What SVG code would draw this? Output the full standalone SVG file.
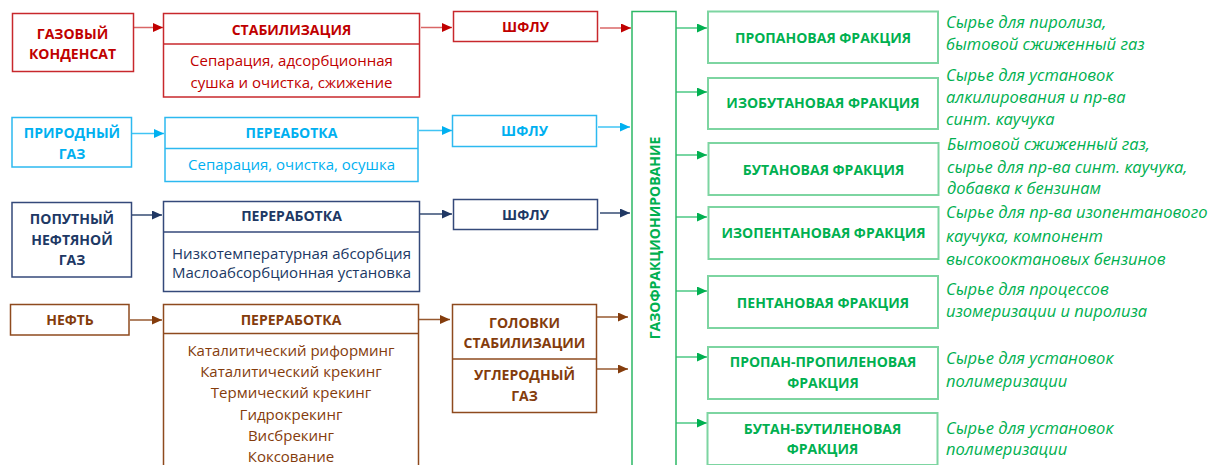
<svg xmlns="http://www.w3.org/2000/svg" width="1212" height="465" viewBox="0 0 1212 465">
<style>
text{font-family:"Open Sans","Liberation Sans",sans-serif;text-anchor:middle}
.h{font-weight:bold;font-size:14px}
.b{font-size:15px}
.d{font-style:italic;font-size:16.5px;text-anchor:start;fill:#00B050}
.box{fill:#fff;stroke-width:1.5}
.red{stroke:#C8282C}.redt{fill:#C00000}
.blu{stroke:#2CB9F0}.blut{fill:#00B0F0}
.nav{stroke:#34497A}.navt{fill:#203864}
.brn{stroke:#8E4A1E}.brnt{fill:#843C0C}
.grn{stroke:#7DD5A1;stroke-width:2}.grnt{fill:#00B050}
.col{stroke:#2DB866}
.c{fill:none;stroke-width:1.5}
</style>
<defs>
<marker id="mr" markerUnits="userSpaceOnUse" markerWidth="10" markerHeight="9" refX="10" refY="4.5" orient="auto"><path d="M0,0L10,4.5L0,9z" fill="#C00000"/></marker>
<marker id="mb" markerUnits="userSpaceOnUse" markerWidth="10" markerHeight="9" refX="10" refY="4.5" orient="auto"><path d="M0,0L10,4.5L0,9z" fill="#00B0F0"/></marker>
<marker id="mn" markerUnits="userSpaceOnUse" markerWidth="10" markerHeight="9" refX="10" refY="4.5" orient="auto"><path d="M0,0L10,4.5L0,9z" fill="#203864"/></marker>
<marker id="mo" markerUnits="userSpaceOnUse" markerWidth="10" markerHeight="9" refX="10" refY="4.5" orient="auto"><path d="M0,0L10,4.5L0,9z" fill="#843C0C"/></marker>
<marker id="mg" markerUnits="userSpaceOnUse" markerWidth="10" markerHeight="9" refX="10" refY="4.5" orient="auto"><path d="M0,0L10,4.5L0,9z" fill="#00B050"/></marker>
</defs>

<g id="connectors">
<g stroke="#C00000" stroke-opacity="0.6" class="c" marker-end="url(#mr)">
<path d="M133,27.5H163"/><path d="M421,27.5H452"/><path d="M600,28H631"/>
</g>
<g stroke="#00B0F0" stroke-opacity="0.75" class="c" marker-end="url(#mb)">
<path d="M132,133.5H164"/><path d="M419,130.5H452"/><path d="M598,127H630"/>
</g>
<g stroke="#203864" stroke-opacity="0.9" class="c" marker-end="url(#mn)">
<path d="M132,215H162"/><path d="M420,214H452"/><path d="M600,213H630"/>
</g>
<g stroke="#843C0C" stroke-opacity="0.85" class="c" marker-end="url(#mo)">
<path d="M130,320H162"/><path d="M419,319.5H450"/><path d="M597,317H628"/><path d="M597,369H628"/>
</g>
<g stroke="#00B050" stroke-opacity="0.7" class="c" marker-end="url(#mg)">
<path d="M676,28H707"/><path d="M676,92H707"/><path d="M676,155H707"/><path d="M676,217H707"/><path d="M676,291H707"/><path d="M676,357H707"/><path d="M676,423H707"/>
</g>
</g>

<g id="gas-condensate">
<rect class="box red" x="12.5" y="13.5" width="121" height="58"/>
<text class="h redt" x="72.5" y="39">ГАЗОВЫЙ</text>
<text class="h redt" x="72.5" y="59">КОНДЕНСАТ</text>
</g>
<g id="stabilization">
<rect class="box red" x="163.5" y="13.5" width="256" height="83.5"/>
<path class="red" stroke-width="1.5" d="M163.5,44H419.5"/>
<text class="h redt" x="291.5" y="35">СТАБИЛИЗАЦИЯ</text>
<text class="b redt" x="291.5" y="66">Сепарация, адсорбционная</text>
<text class="b redt" x="291.5" y="88">сушка и очистка, сжижение</text>
</g>
<g id="shflu-1">
<rect class="box red" x="453.5" y="11.5" width="144" height="30"/>
<text class="h redt" x="525.5" y="32">ШФЛУ</text>
</g>

<g id="natural-gas">
<rect class="box blu" x="12" y="117.5" width="119.5" height="49.5"/>
<text class="h blut" x="72" y="138">ПРИРОДНЫЙ</text>
<text class="h blut" x="72" y="159">ГАЗ</text>
</g>
<g id="processing-ng">
<rect class="box blu" x="165" y="117.5" width="253" height="64"/>
<path class="blu" stroke-width="1.5" d="M165,148.5H418"/>
<text class="h blut" x="291.5" y="138">ПЕРЕАБОТКА</text>
<text class="b blut" x="291.5" y="170">Сепарация, очистка, осушка</text>
</g>
<g id="shflu-2">
<rect class="box blu" x="452.5" y="115.5" width="144" height="31"/>
<text class="h blut" x="524.5" y="136">ШФЛУ</text>
</g>

<g id="associated-gas">
<rect class="box nav" x="12" y="202.5" width="119.5" height="74.5"/>
<text class="h navt" x="72" y="224">ПОПУТНЫЙ</text>
<text class="h navt" x="72" y="245">НЕФТЯНОЙ</text>
<text class="h navt" x="72" y="265">ГАЗ</text>
</g>
<g id="processing-apg">
<rect class="box nav" x="163.5" y="201.5" width="256" height="90"/>
<path class="nav" stroke-width="1.5" d="M163.5,232H419.5"/>
<text class="h navt" x="291.5" y="221">ПЕРЕРАБОТКА</text>
<text class="b navt" x="291.5" y="259">Низкотемпературная абсорбция</text>
<text class="b navt" x="291.5" y="278">Маслоабсорбционная установка</text>
</g>
<g id="shflu-3">
<rect class="box nav" x="453.5" y="199.5" width="144" height="30"/>
<text class="h navt" x="525.5" y="220">ШФЛУ</text>
</g>

<g id="oil">
<rect class="box brn" x="10.5" y="304.5" width="118.5" height="30.5"/>
<text class="h brnt" x="70" y="325">НЕФТЬ</text>
</g>
<g id="processing-oil">
<rect class="box brn" x="163.5" y="304.5" width="255" height="170"/>
<path class="brn" stroke-width="1.5" d="M163.5,333.5H418.5"/>
<text class="h brnt" x="291" y="325">ПЕРЕРАБОТКА</text>
<text class="b brnt" x="291" y="356">Каталитический риформинг</text>
<text class="b brnt" x="291" y="377">Каталитический крекинг</text>
<text class="b brnt" x="291" y="398">Термический крекинг</text>
<text class="b brnt" x="291" y="420">Гидрокрекинг</text>
<text class="b brnt" x="291" y="441">Висбрекинг</text>
<text class="b brnt" x="291" y="462">Коксование</text>
</g>
<g id="stabilization-heads">
<rect class="box brn" x="452.5" y="304.5" width="144" height="108"/>
<path class="brn" stroke-width="1.5" d="M452.5,359H596.5"/>
<text class="h brnt" x="524.5" y="328">ГОЛОВКИ</text>
<text class="h brnt" x="524.5" y="348">СТАБИЛИЗАЦИИ</text>
<text class="h brnt" x="524.5" y="380">УГЛЕРОДНЫЙ</text>
<text class="h brnt" x="524.5" y="401">ГАЗ</text>
</g>

<g id="gas-fractionation">
<rect class="box col" x="632" y="11.5" width="44" height="470"/>
<text class="h grnt" transform="translate(660,238) rotate(-90)">ГАЗОФРАКЦИОНИРОВАНИЕ</text>
</g>

<g id="propane">
<rect class="box grn" x="708" y="11.5" width="230" height="51.5"/>
<text class="h grnt" x="823" y="43">ПРОПАНОВАЯ ФРАКЦИЯ</text>
<text class="d" x="946" y="28">Сырье для пиролиза,</text>
<text class="d" x="946" y="50">бытовой сжиженный газ</text>
</g>
<g id="isobutane">
<rect class="box grn" x="708" y="78" width="230" height="51"/>
<text class="h grnt" x="823" y="108">ИЗОБУТАНОВАЯ ФРАКЦИЯ</text>
<text class="d" x="946" y="81">Сырье для установок</text>
<text class="d" x="946" y="103">алкилирования и пр-ва</text>
<text class="d" x="946" y="125">синт. каучука</text>
</g>
<g id="butane">
<rect class="box grn" x="708.5" y="143" width="230" height="52"/>
<text class="h grnt" x="823.5" y="175">БУТАНОВАЯ ФРАКЦИЯ</text>
<text class="d" x="947" y="150">Бытовой сжиженный газ,</text>
<text class="d" x="947" y="173">сырье для пр-ва синт. каучука,</text>
<text class="d" x="947" y="194">добавка к бензинам</text>
</g>
<g id="isopentane">
<rect class="box grn" x="708.5" y="207" width="230" height="52"/>
<text class="h grnt" x="823.5" y="238">ИЗОПЕНТАНОВАЯ ФРАКЦИЯ</text>
<text class="d" x="946" y="218">Сырье для пр-ва изопентанового</text>
<text class="d" x="946" y="242">каучука, компонент</text>
<text class="d" x="946" y="265">высокооктановых бензинов</text>
</g>
<g id="pentane">
<rect class="box grn" x="708" y="276" width="230" height="52"/>
<text class="h grnt" x="823" y="308">ПЕНТАНОВАЯ ФРАКЦИЯ</text>
<text class="d" x="946" y="295">Сырье для процессов</text>
<text class="d" x="946" y="317">изомеризации и пиролиза</text>
</g>
<g id="propane-propylene">
<rect class="box grn" x="708" y="347" width="230" height="52"/>
<text class="h grnt" x="823" y="367">ПРОПАН-ПРОПИЛЕНОВАЯ</text>
<text class="h grnt" x="823" y="388">ФРАКЦИЯ</text>
<text class="d" x="946" y="364">Сырье для установок</text>
<text class="d" x="946" y="387">полимеризации</text>
</g>
<g id="butane-butylene">
<rect class="box grn" x="707.5" y="413" width="230" height="52"/>
<text class="h grnt" x="822.5" y="434">БУТАН-БУТИЛЕНОВАЯ</text>
<text class="h grnt" x="822.5" y="454">ФРАКЦИЯ</text>
<text class="d" x="946" y="434">Сырье для установок</text>
<text class="d" x="946" y="455">полимеризации</text>
</g>
</svg>
